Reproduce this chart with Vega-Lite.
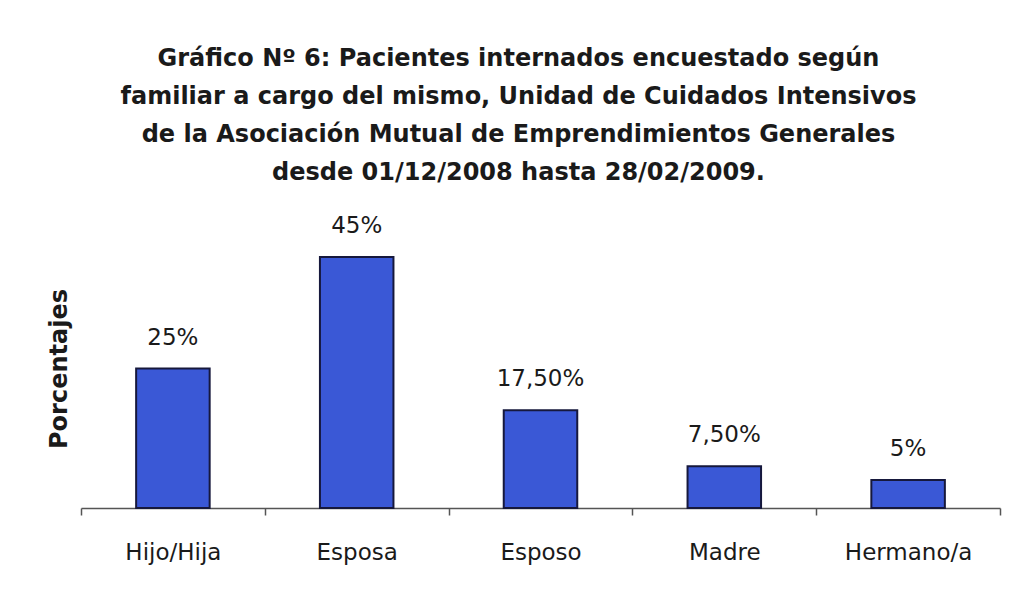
{
  "$schema": "https://vega.github.io/schema/vega-lite/v6.json",
  "autosize": {"type": "none"},
  "width": 919,
  "height": 279,
  "padding": {"left": 81, "top": 229, "right": 11, "bottom": 84},
  "background": "white",
  "data": {
    "values": [
      {"familiar": "Hijo/Hija", "porcentaje": 25, "etiqueta": "25%"},
      {"familiar": "Esposa", "porcentaje": 45, "etiqueta": "45%"},
      {"familiar": "Esposo", "porcentaje": 17.5, "etiqueta": "17,50%"},
      {"familiar": "Madre", "porcentaje": 7.5, "etiqueta": "7,50%"},
      {"familiar": "Hermano/a", "porcentaje": 5, "etiqueta": "5%"}
    ]
  },
  "title": {
    "text": [
      "Gráfico Nº 6: Pacientes internados encuestado según",
      "familiar a cargo del mismo, Unidad de Cuidados Intensivos",
      "de la Asociación Mutual de Emprendimientos Generales",
      "desde 01/12/2008 hasta 28/02/2009."
    ],
    "font": "DejaVu Sans",
    "fontSize": 24,
    "fontWeight": "bold",
    "color": "#1a1a1a",
    "lineHeight": 38,
    "anchor": "middle",
    "dx": -22,
    "offset": 30
  },
  "config": {
    "view": {"stroke": null},
    "font": "DejaVu Sans"
  },
  "encoding": {
    "x": {
      "field": "familiar",
      "type": "nominal",
      "sort": null,
      "scale": {"paddingInner": 0, "paddingOuter": 0},
      "axis": {
        "title": null,
        "labelAngle": 0,
        "labelFont": "DejaVu Sans",
        "labelFontSize": 23,
        "labelColor": "#1a1a1a",
        "labelPadding": 26,
        "ticks": true,
        "tickBand": "extent",
        "tickSize": 7,
        "tickColor": "#555",
        "tickWidth": 1.5,
        "domainColor": "#555",
        "domainWidth": 1.5
      }
    },
    "y": {
      "field": "porcentaje",
      "type": "quantitative",
      "scale": {"domain": [0, 50]},
      "axis": {
        "title": "Porcentajes",
        "titleFont": "DejaVu Sans",
        "titleFontSize": 24,
        "titleFontWeight": "bold",
        "titleColor": "#1a1a1a",
        "titlePadding": 10,
        "labels": false,
        "ticks": false,
        "domain": false,
        "grid": false
      }
    }
  },
  "layer": [
    {
      "mark": {"type": "bar", "width": {"band": 0.4}, "color": "#3a58d6", "stroke": "#16183c", "strokeWidth": 2}
    },
    {
      "mark": {"type": "text", "baseline": "bottom", "dy": -19, "fontSize": 23, "font": "DejaVu Sans", "color": "#1a1a1a"},
      "encoding": {"text": {"field": "etiqueta"}}
    }
  ]
}
